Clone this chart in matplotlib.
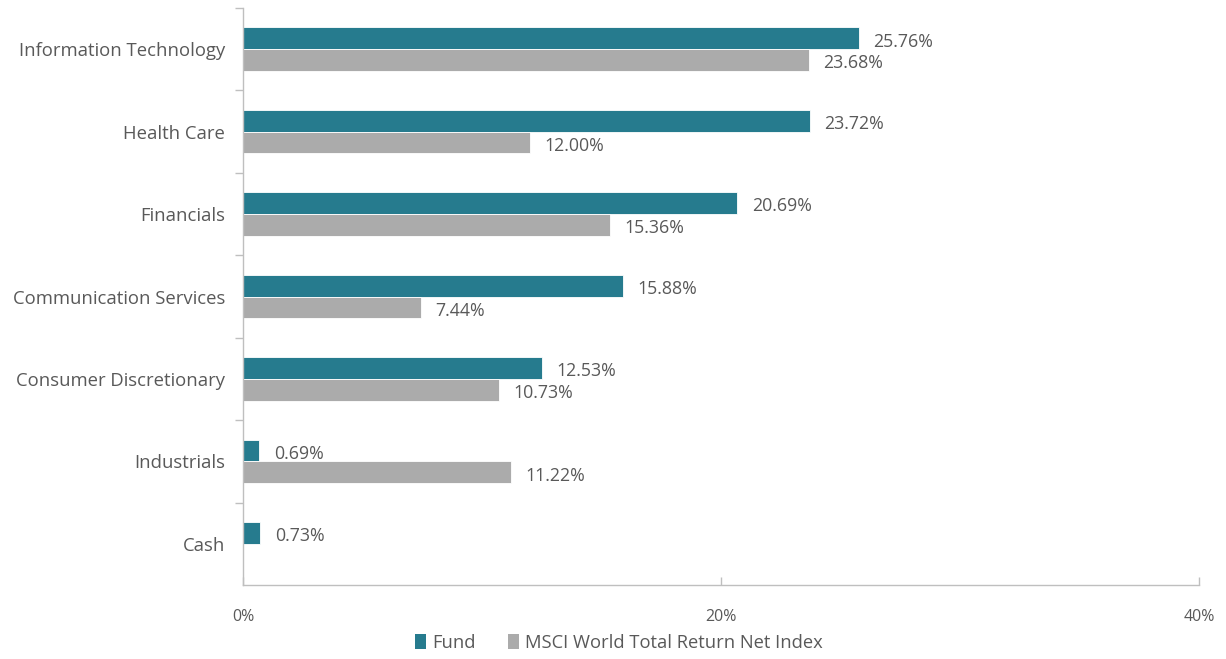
import matplotlib
matplotlib.use("Agg")
import matplotlib.pyplot as plt
import numpy as np
from matplotlib.patches import Patch

categories = ["Information Technology", "Health Care", "Financials",
              "Communication Services", "Consumer Discretionary", "Industrials", "Cash"]
fund = [25.76, 23.72, 20.69, 15.88, 12.53, 0.69, 0.73]
msci = [23.68, 12.00, 15.36, 7.44, 10.73, 11.22, None]
xticks = [0, 20, 40]
xtick_labels = ["0%", "20%", "40%"]
series_names = ["Fund", "MSCI World Total Return Net Index"]

TEAL = "#267B8E"
GRAY = "#ABABAB"
TXT = "#595959"
AX = "#BFBFBF"

plt.rcParams['font.family'] = ['Open Sans', 'DejaVu Sans']

fig = plt.figure(figsize=(12.26, 6.59), dpi=100)
ax = fig.add_axes([243/1226, 1-585/659, (1199-243)/1226, (585-8)/659])

n = len(categories)
y = np.arange(n)
h = 0.265
for i in range(n):
    ax.barh(y[i] - h/2, fund[i], height=h, color=TEAL, edgecolor="white", linewidth=0.6)
    ax.text(fund[i] + 0.6, y[i] - h/2 + 0.04, f"{fund[i]:.2f}%", va="center", ha="left",
            fontsize=12.8, color=TXT)
    if msci[i] is not None:
        ax.barh(y[i] + h/2, msci[i], height=h, color=GRAY, edgecolor="white", linewidth=0.6)
        ax.text(msci[i] + 0.6, y[i] + h/2 + 0.04, f"{msci[i]:.2f}%", va="center", ha="left",
                fontsize=12.8, color=TXT)

ax.set_xlim(0, 40)
ax.set_ylim(n - 0.5, -0.5)

ax.set_yticks(y)
ax.set_yticklabels(categories, fontsize=13.3, color=TXT)
ax.tick_params(axis="y", which="major", length=0, pad=13)
ax.set_yticks(np.arange(n) - 0.5, minor=True)
ax.tick_params(axis="y", which="minor", length=6, color=AX, width=1, direction="out")

ax.set_xticks(xticks)
ax.set_xticklabels(xtick_labels, fontsize=11.5, color=TXT)
ax.tick_params(axis="x", which="major", length=6, color=AX, width=1, direction="in", pad=17)

for s in ["top", "right"]:
    ax.spines[s].set_visible(False)
for s in ["left", "bottom"]:
    ax.spines[s].set_color(AX)
    ax.spines[s].set_linewidth(1)

handles = [Patch(facecolor=TEAL), Patch(facecolor=GRAY)]
fig.legend(handles, series_names, loc="center", bbox_to_anchor=(619/1226, 1-643/659),
           ncol=2, frameon=False, fontsize=13.2, labelcolor=TXT,
           handlelength=0.6, handleheight=0.9, handletextpad=0.3, columnspacing=1.8)

fig.savefig("out.png", dpi=100)
